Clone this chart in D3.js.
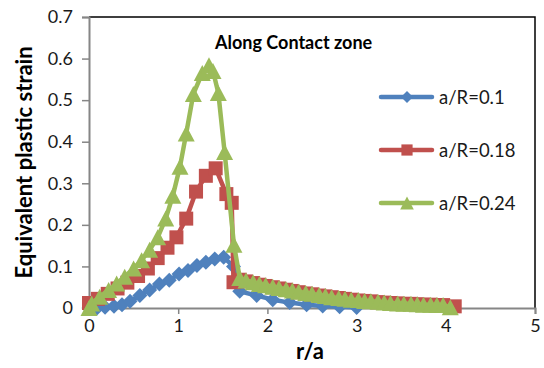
<!DOCTYPE html>
<html>
<head>
<meta charset="utf-8">
<script src="https://cdn.jsdelivr.net/npm/d3@7"></script>
<style>
  html, body { margin: 0; padding: 0; background: #fff; }
  svg { display: block; }
</style>
</head>
<body>
<script>
// ---- data ----
const seriesNames = ["a/R=0.1", "a/R=0.18", "a/R=0.24"];
const seriesColors = ["#4F81BD", "#C0504D", "#9BBB59"];
const xTicks = [0, 1, 2, 3, 4, 5];
const yTicks = [0, 0.1, 0.2, 0.3, 0.4, 0.5, 0.6, 0.7];

const blueX = [0, 0.09, 0.18, 0.28, 0.37, 0.46, 0.57, 0.68, 0.79, 0.9, 1.01, 1.11, 1.21, 1.31, 1.41, 1.51, 1.62, 1.69, 1.88, 2.06, 2.25, 2.44, 2.62, 2.81, 3.0];
const blueY = [0, 0, 0.002, 0.004, 0.008, 0.016, 0.03, 0.043, 0.058, 0.067, 0.082, 0.09, 0.102, 0.11, 0.118, 0.122, 0.1, 0.04, 0.03, 0.02, 0.013, 0.008, 0.005, 0.003, 0.001];

const redX = [0, 0.1, 0.21, 0.32, 0.43, 0.55, 0.66, 0.77, 0.88, 0.98, 1.09, 1.2, 1.31, 1.42, 1.54, 1.6, 1.62, 1.69, 1.76, 1.84, 1.91, 1.98, 2.06, 2.13, 2.21, 2.28, 2.35, 2.43, 2.5, 2.58, 2.65, 2.72, 2.8, 2.87, 2.94, 3.02, 3.09, 3.16, 3.24, 3.31, 3.38, 3.46, 3.53, 3.61, 3.68, 3.75, 3.83, 3.9, 3.97, 4.1];
const redY = [0.012, 0.022, 0.034, 0.047, 0.061, 0.077, 0.095, 0.12, 0.145, 0.17, 0.215, 0.28, 0.318, 0.336, 0.274, 0.253, 0.062, 0.068, 0.064, 0.06, 0.056, 0.053, 0.05, 0.047, 0.044, 0.041, 0.038, 0.035, 0.033, 0.03, 0.028, 0.026, 0.024, 0.022, 0.02, 0.018, 0.017, 0.016, 0.014, 0.013, 0.012, 0.011, 0.01, 0.01, 0.009, 0.008, 0.008, 0.007, 0.007, 0.004];

const greenX = [0, 0.03, 0.12, 0.22, 0.31, 0.4, 0.5, 0.59, 0.68, 0.77, 0.86, 0.94, 1.02, 1.09, 1.17, 1.27, 1.345, 1.39, 1.45, 1.52, 1.625, 1.69, 1.76, 1.84, 1.91, 1.98, 2.06, 2.13, 2.21, 2.28, 2.35, 2.43, 2.5, 2.58, 2.65, 2.72, 2.8, 2.87, 2.94, 3.02, 3.09, 3.16, 3.24, 3.31, 3.38, 3.46, 3.53, 3.61, 3.68, 3.75, 3.83, 3.9, 3.97, 4.05];
const greenY = [0, 0.011, 0.027, 0.043, 0.059, 0.075, 0.095, 0.115, 0.14, 0.17, 0.215, 0.27, 0.34, 0.42, 0.515, 0.565, 0.584, 0.57, 0.517, 0.375, 0.152, 0.072, 0.066, 0.062, 0.058, 0.055, 0.051, 0.048, 0.045, 0.042, 0.039, 0.036, 0.034, 0.031, 0.029, 0.026, 0.024, 0.022, 0.02, 0.019, 0.017, 0.016, 0.015, 0.013, 0.012, 0.011, 0.01, 0.01, 0.009, 0.008, 0.008, 0.007, 0.007, 0.002];

const seriesX = [blueX, redX, greenX];
const seriesY = [blueY, redY, greenY];
const markerTypes = ["diamond", "square", "triangle"];

// ---- layout ----
const W = 544, H = 368;
const plot = { left: 89, right: 535, top: 17, bottom: 308 };
const FONT = "Lato, 'Liberation Sans', Arial, sans-serif";

const svg = d3.select("body").append("svg").attr("width", W).attr("height", H);

const x = d3.scaleLinear().domain([0, 5]).range([plot.left, plot.right]);
const y = d3.scaleLinear().domain([0, 0.7]).range([plot.bottom, plot.top]);

// plot frame (top & right black)
svg.append("path")
  .attr("d", `M${plot.left},${plot.top}H${plot.right}V${plot.bottom}`)
  .attr("fill", "none").attr("stroke", "#000").attr("stroke-width", 1.5);

// axes
const xAxis = d3.axisBottom(x).tickValues(xTicks).tickSize(6).tickFormat(d3.format("d"));
const yAxis = d3.axisLeft(y).tickValues(yTicks).tickSize(7).tickFormat(d => d === 0 ? "0" : d3.format(".1f")(d));

const gx = svg.append("g").attr("transform", `translate(0,${plot.bottom})`).call(xAxis);
const gy = svg.append("g").attr("transform", `translate(${plot.left},0)`).call(yAxis);
[gx, gy].forEach(g => {
  g.select(".domain").attr("stroke", "#868686").attr("stroke-width", 2);
  g.selectAll(".tick line").attr("stroke", "#868686").attr("stroke-width", 1.5);
  g.selectAll(".tick text").attr("fill", "#1a1a1a").style("font-family", FONT).style("font-size", "18px");
});
gx.selectAll(".tick text").attr("y", 11).attr("dy", "0.71em");
gy.selectAll(".tick text").attr("x", -16);

// marker shapes
function markerPath(type) {
  if (type === "diamond") { const r = 7.5; return `M0,${-r}L${r},0L0,${r}L${-r},0Z`; }
  if (type === "square") { const r = 7; return `M${-r},${-r}H${r}V${r}H${-r}Z`; }
  const w = 8.5, h = 8; return `M0,${-h}L${w},${h}L${-w},${h}Z`;
}

const line = d3.line().x(d => x(d[0])).y(d => y(d[1]));

seriesNames.forEach((name, i) => {
  const pts = seriesX[i].map((v, k) => [v, seriesY[i][k]]);
  const g = svg.append("g");
  g.append("path").datum(pts).attr("d", line)
    .attr("fill", "none").attr("stroke", seriesColors[i]).attr("stroke-width", 4.5)
    .attr("stroke-linejoin", "round").attr("stroke-linecap", "round");
  g.selectAll("path.m").data(pts).enter().append("path").attr("class", "m")
    .attr("d", markerPath(markerTypes[i]))
    .attr("transform", d => `translate(${x(d[0])},${y(d[1])})`)
    .attr("fill", seriesColors[i]);
});

// legend
const legendY = [97, 150, 203];
seriesNames.forEach((name, i) => {
  const g = svg.append("g").attr("transform", `translate(0,${legendY[i]})`);
  g.append("line").attr("x1", 381).attr("x2", 432).attr("y1", 0).attr("y2", 0)
    .attr("stroke", seriesColors[i]).attr("stroke-width", 4.5).attr("stroke-linecap", "round");
  g.append("path").attr("d", markerPath(markerTypes[i])).attr("transform", "translate(407,0) scale(0.8)")
    .attr("fill", seriesColors[i]);
  g.append("text").attr("x", 439).attr("y", 0).attr("dy", "0.36em")
    .style("font-family", FONT).style("font-size", "18.5px").attr("fill", "#1a1a1a").text(name);
});

// titles
svg.append("text").attr("x", 215).attr("y", 49)
  .style("font-family", FONT).style("font-size", "18px").style("font-weight", "bold")
  .attr("fill", "#000").text("Along Contact zone");

svg.append("text").attr("transform", `translate(32,${(plot.top + plot.bottom) / 2}) rotate(-90)`)
  .attr("text-anchor", "middle")
  .style("font-family", FONT).style("font-size", "22px").style("font-weight", "bold")
  .attr("fill", "#000").text("Equivalent plastic strain");

svg.append("text").attr("x", 310).attr("y", 359)
  .attr("text-anchor", "middle")
  .style("font-family", FONT).style("font-size", "22px").style("font-weight", "bold")
  .attr("fill", "#000").text("r/a");
</script>
</body>
</html>
